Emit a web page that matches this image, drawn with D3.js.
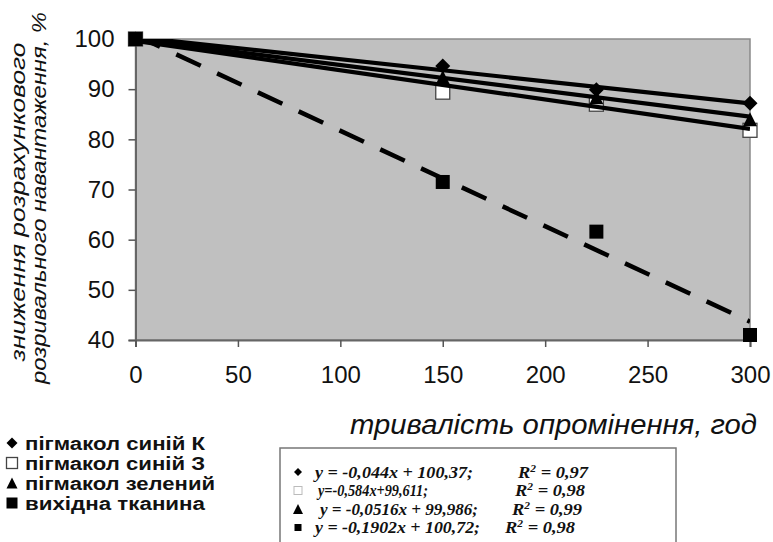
<!DOCTYPE html>
<html>
<head>
<meta charset="utf-8">
<script src="https://cdn.jsdelivr.net/npm/d3@7"></script>
<style>
  body { margin: 0; background: #fff; }
  svg { display: block; }
</style>
</head>
<body>
<svg id="chart" width="773" height="542"></svg>
<script>
// Data
const hours = [0, 150, 225, 300];
const xTicks = [0, 50, 100, 150, 200, 250, 300];
const yTicks = [40, 50, 60, 70, 80, 90, 100];

const seriesNames = ['пігмакол синій К', 'пігмакол синій З', 'пігмакол зелений', 'вихідна тканина'];
const blueK = [100, 94.6, 89.9, 87.2];
const blueZ = [100, 89.4, 87.0, 81.8];
const green = [100, 92.4, 88.4, 84.0];
const fabric = [100, 71.5, 61.6, 41.0];

// trend line coefficients (from the equations shown)
const slopes = [-0.044, -0.0584, -0.0516, -0.1902];
const intercepts = [100.37, 99.611, 99.986, 100.72];
const eqLabels = ['y = -0,044x + 100,37;', 'y=-0,584x+99,611;', 'y = -0,0516x + 99,986;', 'y = -0,1902x + 100,72;'];
const r2Labels = ['0,97', '0,98', '0,99', '0,98'];

const svg = d3.select('#chart');

const x = d3.scaleLinear().domain([0, 300]).range([135.5, 750]);
const y = d3.scaleLinear().domain([40, 100]).range([340, 39]);

// plot area
svg.append('rect')
    .attr('x', x(0)).attr('y', y(100))
    .attr('width', x(300) - x(0)).attr('height', y(40) - y(100))
    .attr('fill', '#c0c0c0')
    .attr('stroke', '#8a8a8a')
    .attr('stroke-width', 1.5);

svg.append('clipPath').attr('id', 'plotClip')
    .append('rect')
    .attr('x', x(0)).attr('y', y(100))
    .attr('width', x(300) - x(0)).attr('height', y(40) - y(100));

// axes
const yAxis = svg.append('g')
    .attr('transform', `translate(${x(0)},0)`)
    .call(d3.axisLeft(y).tickValues(yTicks).tickSize(7).tickPadding(14));
const xAxis = svg.append('g')
    .attr('transform', `translate(0,${y(40)})`)
    .call(d3.axisBottom(x).tickValues(xTicks).tickSize(7).tickPadding(19));

[xAxis, yAxis].forEach(a => {
    a.select('.domain').attr('stroke', '#666').attr('stroke-width', 2);
    a.selectAll('.tick line').attr('stroke', '#555').attr('stroke-width', 1.5);
    a.selectAll('.tick text')
        .attr('fill', '#111')
        .style('font-family', 'Liberation Sans, Arial, sans-serif')
        .style('font-size', '24px');
});

// marker shapes
const shapes = ['diamond', 'open', 'triangle', 'square'];
function drawMarker(g, shape, cx, cy, s) {
    if (shape === 'diamond') {
        g.append('path')
            .attr('d', d3.symbol(d3.symbolSquare, s * s / 2)())
            .attr('transform', `translate(${cx},${cy}) rotate(45)`)
            .attr('fill', '#000');
    } else if (shape === 'open') {
        g.append('rect')
            .attr('x', cx - s / 2).attr('y', cy - s / 2)
            .attr('width', s).attr('height', s)
            .attr('fill', '#fff').attr('stroke', '#444').attr('stroke-width', 1.3);
    } else if (shape === 'triangle') {
        g.append('path')
            .attr('d', `M${cx},${cy - s / 2}L${cx + s / 2},${cy + s / 2}L${cx - s / 2},${cy + s / 2}Z`)
            .attr('fill', '#000');
    } else {
        g.append('rect')
            .attr('x', cx - s / 2).attr('y', cy - s / 2)
            .attr('width', s).attr('height', s)
            .attr('fill', '#000');
    }
}

const allSeries = [blueK, blueZ, green, fabric];
const markers = svg.append('g');
allSeries.forEach((vals, i) => {
    vals.forEach((v, j) => drawMarker(markers, shapes[i], x(hours[j]), y(v), i === 0 ? 15 : 14));
});

// trend lines
const trend = svg.append('g').attr('clip-path', 'url(#plotClip)');
slopes.forEach((m, i) => {
    trend.append('line')
        .attr('x1', x(0)).attr('y1', y(intercepts[i]))
        .attr('x2', x(300)).attr('y2', y(intercepts[i] + m * 300))
        .attr('stroke', '#000')
        .attr('stroke-width', i === 3 ? 4.5 : 4.2)
        .attr('stroke-dasharray', i === 3 ? '27,18' : null);
});

// axis titles
svg.append('text')
    .attr('x', 350).attr('y', 434)
    .attr('textLength', 407).attr('lengthAdjust', 'spacingAndGlyphs')
    .style('font-family', 'Liberation Sans, Arial, sans-serif')
    .style('font-style', 'italic')
    .style('font-size', '27px')
    .attr('fill', '#111')
    .text('тривалість опромінення, год');

const yTitle = [
    { text: 'зниження розрахункового', cx: 18, cy: 202, len: 319 },
    { text: 'розривального навантаження, %', cx: 39, cy: 198, len: 372 }
];
yTitle.forEach(t => {
    svg.append('text')
        .attr('transform', `translate(${t.cx},${t.cy}) rotate(-90)`)
        .attr('x', -t.len / 2).attr('dy', '0.35em')
        .attr('textLength', t.len).attr('lengthAdjust', 'spacingAndGlyphs')
        .style('font-family', 'Liberation Sans, Arial, sans-serif')
        .style('font-style', 'italic')
        .style('font-size', '21px')
        .attr('fill', '#111')
        .text(t.text);
});

// left legend
const legLens = [180, 180, 190, 180];
const legend = svg.append('g');
seriesNames.forEach((name, i) => {
    const cy = 443 + i * 20;
    drawMarker(legend, shapes[i], 12, cy, 11);
    legend.append('text')
        .attr('x', 25).attr('y', cy + 6.5)
        .attr('textLength', legLens[i]).attr('lengthAdjust', 'spacingAndGlyphs')
        .style('font-family', 'Liberation Sans, Arial, sans-serif')
        .style('font-weight', 'bold')
        .style('font-size', '18px')
        .attr('fill', '#111')
        .text(name);
});

// equation box
svg.append('rect')
    .attr('x', 280).attr('y', 448)
    .attr('width', 396).attr('height', 110)
    .attr('fill', '#fff').attr('stroke', '#777').attr('stroke-width', 1.5);

const eqX = [315, 318, 320, 315];
const eqLen = [158, 110, 158, 165];
const r2X = [518, 515, 512, 505];
const eq = svg.append('g')
    .style('font-family', 'Liberation Serif, Times New Roman, serif')
    .style('font-style', 'italic')
    .style('font-weight', 'bold')
    .style('font-size', '16px')
    .attr('fill', '#111');
eqLabels.forEach((lab, i) => {
    const cy = 472 + i * 18.5;
    const s = [8, 8, 10, 7][i];
    if (shapes[i] === 'open') {
        eq.append('rect')
            .attr('x', 298 - s / 2).attr('y', cy - s / 2)
            .attr('width', s).attr('height', s)
            .attr('fill', '#fff').attr('stroke', '#bbb').attr('stroke-width', 1);
    } else {
        drawMarker(eq, shapes[i], 298, cy, s);
    }
    eq.append('text').attr('x', eqX[i]).attr('y', cy + 5.5)
        .attr('textLength', eqLen[i]).attr('lengthAdjust', 'spacingAndGlyphs')
        .text(lab);
    const r = eq.append('text').attr('x', r2X[i]).attr('y', cy + 5.5)
        .attr('textLength', 70).attr('lengthAdjust', 'spacingAndGlyphs');
    r.append('tspan').text('R');
    r.append('tspan').attr('dy', -6).style('font-size', '10px').text('2');
    r.append('tspan').attr('dy', 6).text(' = ' + r2Labels[i]);
});
</script>
</body>
</html>
